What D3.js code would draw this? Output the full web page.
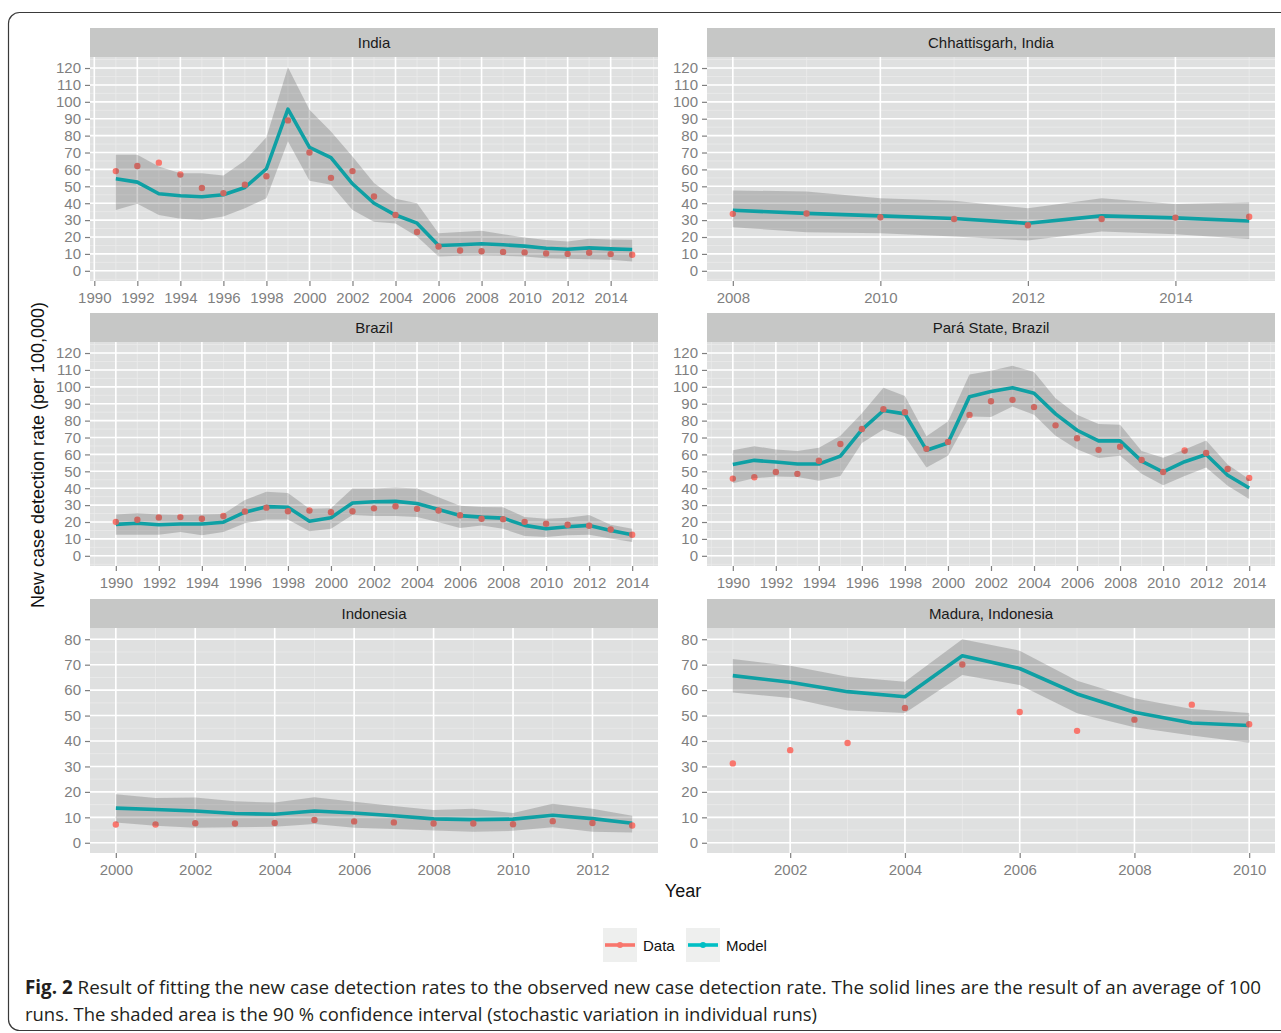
<!DOCTYPE html>
<html>
<head>
<meta charset="utf-8">
<script src="https://cdn.jsdelivr.net/npm/d3@7"></script>
<style>
body{margin:0;background:#fff}
svg{display:block}
</style>
</head>
<body>
<svg id="chart" width="1281" height="1033"></svg>
<script>
// India
var indiaYears = [1991,1992,1993,1994,1995,1996,1997,1998,1999,2000,2001,2002,2003,2004,2005,2006,2007,2008,2009,2010,2011,2012,2013,2014,2015];
var indiaData  = [59,62,64,57,49,46,51,56,89,70,55,59,44,33,23,14.4,12,11.6,11.2,10.9,10.3,10,10.7,9.9,9.5];
var indiaModel = [54.5,52.5,45.6,44.4,43.8,45,49.3,60.4,95.7,73,67,51.5,40,33,28.2,15,15.4,16,15.4,14.6,13.4,12.8,13.6,13,12.6];
var indiaLow   = [36,39.7,33,30.8,30.2,32.2,37,43,76.6,53.3,51,36,29,28,20.3,8.5,8.9,9,8.9,8.5,7.5,7.1,6.9,6.5,5.5];
var indiaHigh  = [68.7,68.7,61.8,57.8,57.8,56.4,65.3,79,120.4,95.3,82.5,67.7,52,42.6,40,22.3,22.9,23.7,21.7,19.7,18.2,17.4,19,18.6,18.4];

// Chhattisgarh, India
var chhYears = [2008,2009,2010,2011,2012,2013,2014,2015];
var chhData  = [33.7,33.9,31.7,30.7,27,30.7,31.5,32];
var chhModel = [35.8,34,32.5,31,28.1,32.5,31.3,29.5];
var chhLow   = [25.8,22.8,22.2,20.3,17.9,23.2,21.7,18.9];
var chhHigh  = [47.6,46.9,42.9,41.5,37,42.9,39.6,40.6];

// Brazil
var brazilYears = [1990,1991,1992,1993,1994,1995,1996,1997,1998,1999,2000,2001,2002,2003,2004,2005,2006,2007,2008,2009,2010,2011,2012,2013,2014];
var brazilData  = [20.1,21.3,22.7,22.9,21.9,23.6,26.2,28.5,26.4,26.8,25.8,26.4,28.1,29.3,27.8,26.8,24,21.9,21.7,20.1,19,18.4,17.8,15.6,12.5];
var brazilModel = [18.6,19.3,18.4,18.8,18.8,19.9,25.8,29.1,28.7,20.5,22.5,31.3,32,32.2,31,27.4,23.8,22.9,22.3,18,16,17.2,18,15,12.5];
var brazilLow   = [12.5,12.5,12.5,14.1,12.1,14.1,19.3,21.5,21.5,14.5,16,24.2,23.5,23.5,22.9,19.9,16.4,18,16,11.7,11.1,12.1,12.5,10.2,8.2];
var brazilHigh  = [24.4,25.2,24.4,24.2,24.4,24.8,33,37.9,37.1,27.8,28.1,39.9,39.9,40.5,39.9,34.6,29.7,28.9,28.7,22.9,21.9,22.5,24.2,18.4,16];

// Pará State, Brazil
var paraYears = [1990,1991,1992,1993,1994,1995,1996,1997,1998,1999,2000,2001,2002,2003,2004,2005,2006,2007,2008,2009,2010,2011,2012,2013,2014];
var paraData  = [45.7,46.5,49.6,48.5,56.3,66.2,75,86.8,85,63.3,67.4,83.4,91.5,92.3,88,77.2,69.6,62.7,64.5,56.7,49.6,62.3,60.8,51.4,46.1];
var paraModel = [54,56.5,55.5,54.3,54.3,59,74.7,86,84,62.5,66.8,94.2,97.2,99.5,96.2,84,74.3,68,68,56,49.6,55.7,60,47.7,40.1];
var paraLow   = [43,45.9,46.9,46.7,44.4,47.3,66.8,74.7,70.7,52.2,59.2,82.5,82.1,88.3,83.5,71.1,63,57.9,59.2,48.5,41.8,47.3,52.2,41.4,33.6];
var paraHigh  = [62.5,64.9,62.9,62,63.9,71.1,84.4,99.5,94.6,70.7,79.5,107.3,109.5,112.4,108.8,93.2,83.5,78,77.6,62,58.1,62.9,68.2,54.1,45.3];

// Indonesia
var indoYears = [2000,2001,2002,2003,2004,2005,2006,2007,2008,2009,2010,2011,2012,2013];
var indoData  = [7.2,7.2,7.7,7.6,7.8,9,8.4,8,7.6,7.6,7.3,8.5,7.8,6.8];
var indoModel = [13.6,13.1,12.5,11.5,11.2,12.5,11.7,10.6,9.4,9.1,9.3,10.8,9.5,7.7];
var indoLow   = [8,6.7,5.9,6.1,6.3,7.4,5.9,5.4,4.8,4.3,4.7,6.1,4.3,4];
var indoHigh  = [19.1,17.6,17.8,16.3,15.8,17.9,16.1,14.5,12.9,13.4,11.7,15.3,13.4,10.6];

// Madura, Indonesia
var maduraYears = [2001,2002,2003,2004,2005,2006,2007,2008,2009,2010];
var maduraData  = [31.2,36.4,39.2,53,70.1,51.4,44,48.4,54.3,46.6];
var maduraModel = [65.7,63.1,59.4,57.4,73.5,68.5,58.5,51.3,47.1,46.1];
var maduraLow   = [59.1,56.9,52,51,65.9,62,50.9,45.4,42.2,39.3];
var maduraHigh  = [72.2,69.6,65.3,63.3,80,75.5,63.7,56.8,52.6,51];

// tick labels
var ticks1990 = [1990,1992,1994,1996,1998,2000,2002,2004,2006,2008,2010,2012,2014];
var ticksChh = [2008,2010,2012,2014];
var ticksIndo = [2000,2002,2004,2006,2008,2010,2012];
var ticksMadura = [2002,2004,2006,2008,2010];
var yTicks120 = [0,10,20,30,40,50,60,70,80,90,100,110,120];
var yTicks80 = [0,10,20,30,40,50,60,70,80];

var legendLabels = ['Data', 'Model'];

var panels = [
    {title: 'India', years: indiaYears, data: indiaData, model: indiaModel, low: indiaLow, high: indiaHigh, xTicks: ticks1990, yTicks: yTicks120, yMax: 120.5, col: 0, row: 0},
    {title: 'Chhattisgarh, India', years: chhYears, data: chhData, model: chhModel, low: chhLow, high: chhHigh, xTicks: ticksChh, yTicks: yTicks120, yMax: 120.5, col: 1, row: 0},
    {title: 'Brazil', years: brazilYears, data: brazilData, model: brazilModel, low: brazilLow, high: brazilHigh, xTicks: ticks1990, yTicks: yTicks120, yMax: 120.5, col: 0, row: 1},
    {title: 'Pará State, Brazil', years: paraYears, data: paraData, model: paraModel, low: paraLow, high: paraHigh, xTicks: ticks1990, yTicks: yTicks120, yMax: 120.5, col: 1, row: 1},
    {title: 'Indonesia', years: indoYears, data: indoData, model: indoModel, low: indoLow, high: indoHigh, xTicks: ticksIndo, yTicks: yTicks80, yMax: 80.4, col: 0, row: 2},
    {title: 'Madura, Indonesia', years: maduraYears, data: maduraData, model: maduraModel, low: maduraLow, high: maduraHigh, xTicks: ticksMadura, yTicks: yTicks80, yMax: 80.4, col: 1, row: 2}
];

// layout
var colLeft = [90, 707],
    panelWidth = 568,
    rowTop = [28, 313, 599],
    rowBottom = [281, 566, 853],
    stripHeight = 29;

var colors = {
    data: '#F8766D',
    model: '#00BFC4',
    panel: '#dfe0e0',
    strip: '#c6c7c6',
    minor: '#ebebeb',
    axis: '#7f7f7f'
};

var font = 'Liberation Sans, Arial, Helvetica, sans-serif';

var svg = d3.select('#chart');

// outer rounded frame
svg.append('rect')
    .attr('x', 8.5).attr('y', 12.5)
    .attr('width', 1320).attr('height', 1018)
    .attr('rx', 11)
    .attr('fill', 'none')
    .attr('stroke', '#3a3a3a')
    .attr('stroke-width', 1.2);

// ggplot style expansion (5% each side)
function expand(lo, hi){
    var pad = (hi - lo) * 0.05;
    return [lo - pad, hi + pad];
}

// minor breaks at half steps, including one step beyond the majors
function minorBreaks(majors, domain){
    var step = majors[1] - majors[0];
    var out = [];
    for(var v = majors[0] - step; v <= majors[majors.length - 1] + step + 1e-9; v += step / 2){
        if(v >= domain[0] && v <= domain[1]){ out.push(v); }
    }
    return out;
}

panels.forEach(function(p){
    var x0 = colLeft[p.col],
        top = rowTop[p.row],
        plotTop = top + stripHeight,
        plotBottom = rowBottom[p.row];

    var xDom = expand(d3.min(p.years), d3.max(p.years));
    var yDom = expand(0, p.yMax);

    var x = d3.scaleLinear().domain(xDom).range([x0, x0 + panelWidth]);
    var y = d3.scaleLinear().domain(yDom).range([plotBottom, plotTop]);

    var g = svg.append('g');

    // strip
    g.append('rect')
        .attr('x', x0).attr('y', top)
        .attr('width', panelWidth).attr('height', stripHeight)
        .attr('fill', colors.strip);
    g.append('text')
        .attr('x', x0 + panelWidth / 2).attr('y', top + stripHeight / 2 - 0.5)
        .attr('text-anchor', 'middle')
        .attr('dominant-baseline', 'central')
        .attr('font-family', font)
        .attr('font-size', 15)
        .attr('fill', '#1a1a1a')
        .text(p.title);

    // panel
    g.append('rect')
        .attr('x', x0).attr('y', plotTop)
        .attr('width', panelWidth).attr('height', plotBottom - plotTop)
        .attr('fill', colors.panel);

    var grid = g.append('g');
    grid.selectAll('.xminor')
        .data(minorBreaks(p.xTicks, xDom))
        .enter().append('line')
            .attr('x1', function(d){ return x(d); }).attr('x2', function(d){ return x(d); })
            .attr('y1', plotTop).attr('y2', plotBottom)
            .attr('stroke', colors.minor).attr('stroke-width', 0.8);
    grid.selectAll('.yminor')
        .data(minorBreaks(p.yTicks, yDom))
        .enter().append('line')
            .attr('y1', function(d){ return y(d); }).attr('y2', function(d){ return y(d); })
            .attr('x1', x0).attr('x2', x0 + panelWidth)
            .attr('stroke', colors.minor).attr('stroke-width', 0.8);
    grid.selectAll('.xmajor')
        .data(p.xTicks)
        .enter().append('line')
            .attr('x1', function(d){ return x(d); }).attr('x2', function(d){ return x(d); })
            .attr('y1', plotTop).attr('y2', plotBottom)
            .attr('stroke', '#fff').attr('stroke-width', 1.6);
    grid.selectAll('.ymajor')
        .data(p.yTicks)
        .enter().append('line')
            .attr('y1', function(d){ return y(d); }).attr('y2', function(d){ return y(d); })
            .attr('x1', x0).attr('x2', x0 + panelWidth)
            .attr('stroke', '#fff').attr('stroke-width', 1.6);

    // model line
    var line = d3.line()
        .x(function(d, i){ return x(p.years[i]); })
        .y(function(d){ return y(d); });
    g.append('path')
        .datum(p.model)
        .attr('d', line)
        .attr('fill', 'none')
        .attr('stroke', colors.model)
        .attr('stroke-width', 3.6)
        .attr('stroke-linejoin', 'round');

    // data points
    g.selectAll('.pt')
        .data(p.data)
        .enter().append('circle')
            .attr('cx', function(d, i){ return x(p.years[i]); })
            .attr('cy', function(d){ return y(d); })
            .attr('r', 3.2)
            .attr('fill', colors.data);

    // confidence ribbon drawn on top, semi transparent
    var area = d3.area()
        .x(function(d, i){ return x(p.years[i]); })
        .y0(function(d, i){ return y(p.low[i]); })
        .y1(function(d){ return y(d); });
    g.append('path')
        .datum(p.high)
        .attr('d', area)
        .attr('fill', '#3e3e3e')
        .attr('fill-opacity', 0.24);

    // axes
    var yAxis = g.append('g')
        .attr('transform', 'translate(' + x0 + ',0)')
        .call(d3.axisLeft(y).tickValues(p.yTicks).tickSize(5).tickPadding(4));
    var xAxis = g.append('g')
        .attr('transform', 'translate(0,' + plotBottom + ')')
        .call(d3.axisBottom(x).tickValues(p.xTicks).tickFormat(d3.format('d')).tickSize(5).tickPadding(6));

    [yAxis, xAxis].forEach(function(a){
        a.select('.domain').remove();
        a.selectAll('line').attr('stroke', colors.axis).attr('stroke-width', 1.2);
        a.selectAll('text')
            .attr('fill', colors.axis)
            .attr('font-family', font)
            .attr('font-size', 15);
    });
});

// axis titles
svg.append('text')
    .attr('transform', 'translate(44,455) rotate(-90)')
    .attr('text-anchor', 'middle')
    .attr('font-family', font)
    .attr('font-size', 18)
    .attr('fill', '#111')
    .text('New case detection rate (per 100,000)');
svg.append('text')
    .attr('x', 683).attr('y', 897)
    .attr('text-anchor', 'middle')
    .attr('font-family', font)
    .attr('font-size', 18)
    .attr('fill', '#111')
    .text('Year');

// legend
var legend = svg.append('g');
var legendX = [603, 686],
    legendColors = [colors.data, colors.model];
legendLabels.forEach(function(label, i){
    var lx = legendX[i];
    legend.append('rect')
        .attr('x', lx).attr('y', 928)
        .attr('width', 34).attr('height', 34)
        .attr('fill', '#eeefee');
    legend.append('line')
        .attr('x1', lx + 2).attr('x2', lx + 32)
        .attr('y1', 945).attr('y2', 945)
        .attr('stroke', legendColors[i]).attr('stroke-width', 3.6);
    legend.append('circle')
        .attr('cx', lx + 17).attr('cy', 945).attr('r', 3)
        .attr('fill', legendColors[i]);
    legend.append('text')
        .attr('x', lx + 40).attr('y', 945)
        .attr('dominant-baseline', 'central')
        .attr('font-family', font)
        .attr('font-size', 15)
        .attr('fill', '#111')
        .text(label);
});

// caption
var cap1 = svg.append('text')
    .attr('x', 25).attr('y', 994)
    .attr('font-family', 'Open Sans, sans-serif')
    .attr('font-size', 19)
    .attr('fill', '#231f20')
    .attr('textLength', 1236)
    .attr('lengthAdjust', 'spacingAndGlyphs');
cap1.append('tspan').attr('font-weight', 'bold').text('Fig. 2');
cap1.append('tspan').text(' Result of fitting the new case detection rates to the observed new case detection rate. The solid lines are the result of an average of 100');
svg.append('text')
    .attr('x', 25).attr('y', 1021)
    .attr('font-family', 'Open Sans, sans-serif')
    .attr('font-size', 19)
    .attr('fill', '#231f20')
    .attr('textLength', 792)
    .attr('lengthAdjust', 'spacingAndGlyphs')
    .text('runs. The shaded area is the 90 % confidence interval (stochastic variation in individual runs)');
</script>
</body>
</html>
